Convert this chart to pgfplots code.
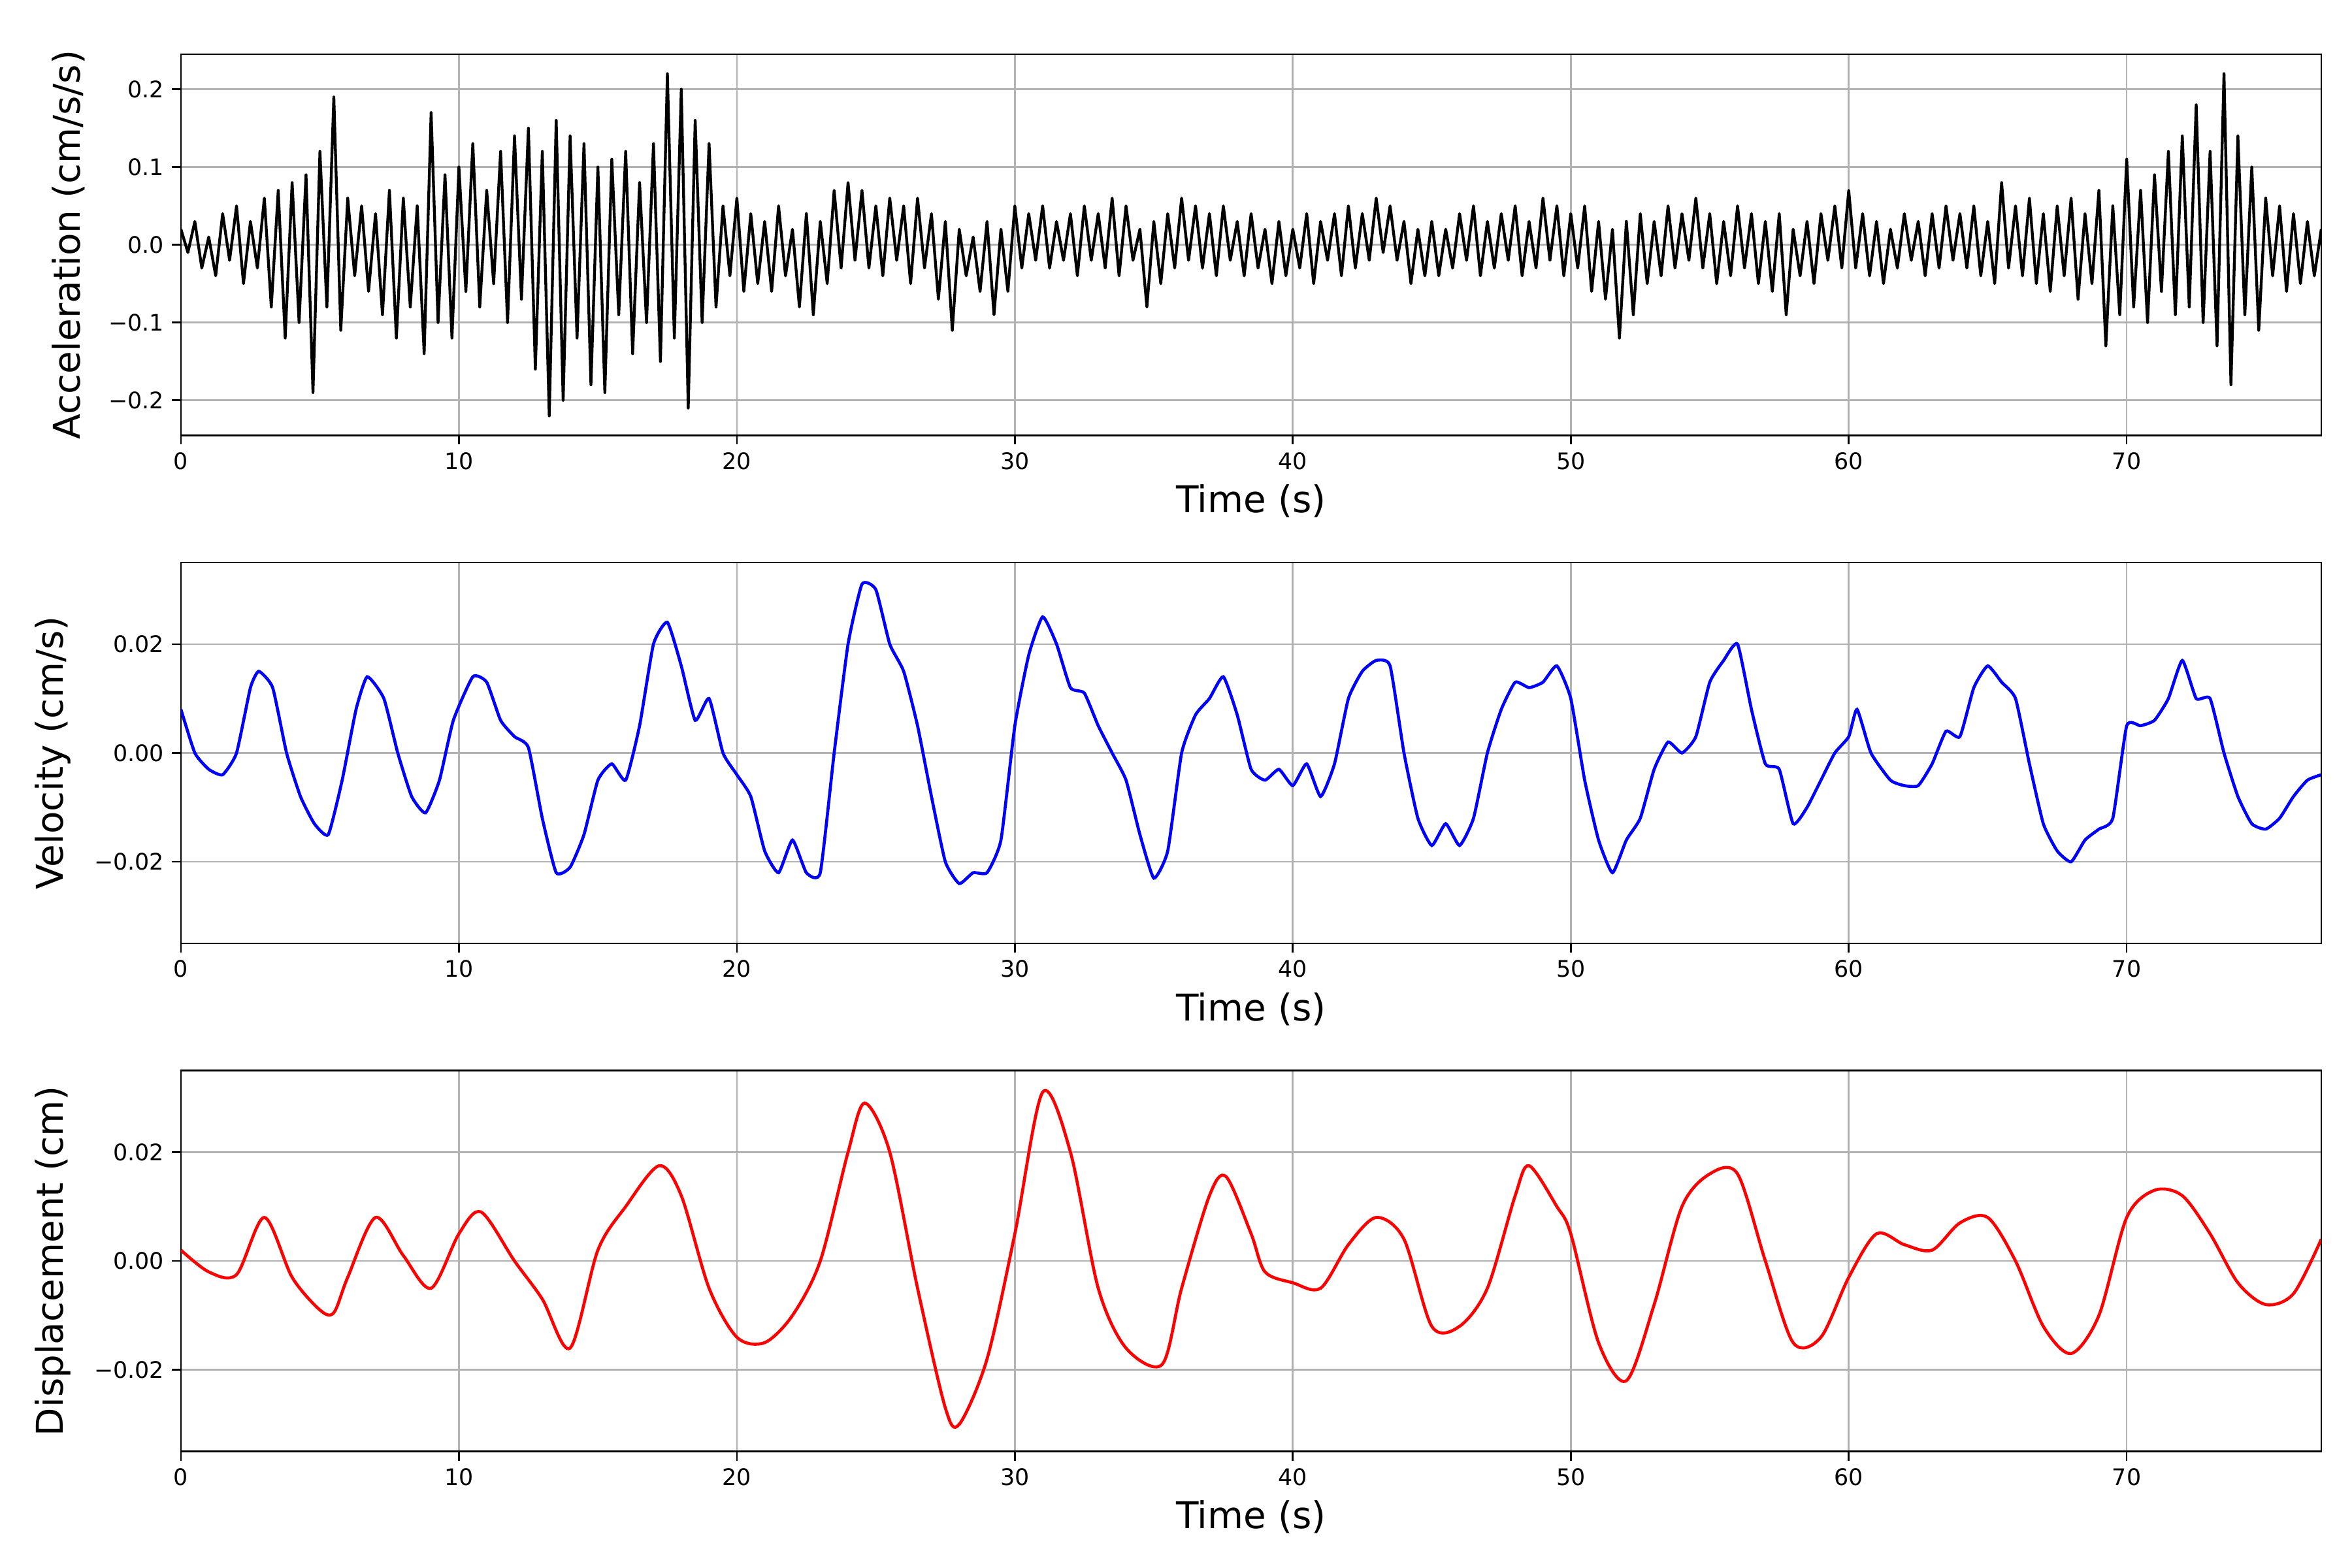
\documentclass[border=0pt]{standalone}
\usepackage{pgfplots}
\pgfplotsset{compat=1.18}
\usepackage{pgfplotstable}
\usepackage{fontspec}
\setmainfont{DejaVu Sans}
\pgfplotstableread{
x y
0 0.02
0.25 -0.01
0.5 0.03
0.75 -0.03
1 0.01
1.25 -0.04
1.5 0.04
1.75 -0.02
2 0.05
2.25 -0.05
2.5 0.03
2.75 -0.03
3 0.06
3.25 -0.08
3.5 0.07
3.75 -0.12
4 0.08
4.25 -0.10
4.5 0.09
4.75 -0.19
5 0.12
5.25 -0.08
5.5 0.19
5.75 -0.11
6 0.06
6.25 -0.04
6.5 0.05
6.75 -0.06
7 0.04
7.25 -0.09
7.5 0.07
7.75 -0.12
8 0.06
8.25 -0.08
8.5 0.05
8.75 -0.14
9 0.17
9.25 -0.10
9.5 0.09
9.75 -0.12
10 0.10
10.25 -0.06
10.5 0.13
10.75 -0.08
11 0.07
11.25 -0.05
11.5 0.12
11.75 -0.10
12 0.14
12.25 -0.07
12.5 0.15
12.75 -0.16
13 0.12
13.25 -0.22
13.5 0.16
13.75 -0.20
14 0.14
14.25 -0.12
14.5 0.13
14.75 -0.18
15 0.10
15.25 -0.19
15.5 0.11
15.75 -0.09
16 0.12
16.25 -0.14
16.5 0.08
16.75 -0.10
17 0.13
17.25 -0.15
17.5 0.22
17.75 -0.12
18 0.20
18.25 -0.21
18.5 0.16
18.75 -0.10
19 0.13
19.25 -0.08
19.5 0.05
19.75 -0.04
20 0.06
20.25 -0.06
20.5 0.04
20.75 -0.05
21 0.03
21.25 -0.06
21.5 0.05
21.75 -0.04
22 0.02
22.25 -0.08
22.5 0.04
22.75 -0.09
23 0.03
23.25 -0.05
23.5 0.07
23.75 -0.03
24 0.08
24.25 -0.02
24.5 0.07
24.75 -0.03
25 0.05
25.25 -0.04
25.5 0.06
25.75 -0.02
26 0.05
26.25 -0.05
26.5 0.06
26.75 -0.03
27 0.04
27.25 -0.07
27.5 0.03
27.75 -0.11
28 0.02
28.25 -0.04
28.5 0.01
28.75 -0.06
29 0.03
29.25 -0.09
29.5 0.02
29.75 -0.06
30 0.05
30.25 -0.03
30.5 0.04
30.75 -0.02
31 0.05
31.25 -0.03
31.5 0.03
31.75 -0.02
32 0.04
32.25 -0.04
32.5 0.05
32.75 -0.02
33 0.04
33.25 -0.03
33.5 0.06
33.75 -0.04
34 0.05
34.25 -0.02
34.5 0.02
34.75 -0.08
35 0.03
35.25 -0.05
35.5 0.04
35.75 -0.03
36 0.06
36.25 -0.02
36.5 0.05
36.75 -0.03
37 0.04
37.25 -0.04
37.5 0.05
37.75 -0.02
38 0.03
38.25 -0.04
38.5 0.04
38.75 -0.03
39 0.02
39.25 -0.05
39.5 0.03
39.75 -0.04
40 0.02
40.25 -0.03
40.5 0.04
40.75 -0.05
41 0.03
41.25 -0.02
41.5 0.04
41.75 -0.04
42 0.05
42.25 -0.03
42.5 0.04
42.75 -0.02
43 0.06
43.25 -0.01
43.5 0.05
43.75 -0.02
44 0.03
44.25 -0.05
44.5 0.02
44.75 -0.04
45 0.03
45.25 -0.04
45.5 0.02
45.75 -0.03
46 0.04
46.25 -0.02
46.5 0.05
46.75 -0.04
47 0.03
47.25 -0.03
47.5 0.04
47.75 -0.02
48 0.05
48.25 -0.04
48.5 0.03
48.75 -0.03
49 0.06
49.25 -0.02
49.5 0.05
49.75 -0.04
50 0.04
50.25 -0.03
50.5 0.05
50.75 -0.06
51 0.03
51.25 -0.07
51.5 0.02
51.75 -0.12
52 0.03
52.25 -0.09
52.5 0.04
52.75 -0.05
53 0.03
53.25 -0.04
53.5 0.05
53.75 -0.03
54 0.04
54.25 -0.02
54.5 0.06
54.75 -0.03
55 0.04
55.25 -0.05
55.5 0.03
55.75 -0.04
56 0.05
56.25 -0.03
56.5 0.04
56.75 -0.05
57 0.03
57.25 -0.06
57.5 0.04
57.75 -0.09
58 0.02
58.25 -0.04
58.5 0.03
58.75 -0.05
59 0.04
59.25 -0.02
59.5 0.05
59.75 -0.03
60 0.07
60.25 -0.03
60.5 0.04
60.75 -0.04
61 0.03
61.25 -0.05
61.5 0.02
61.75 -0.03
62 0.04
62.25 -0.02
62.5 0.03
62.75 -0.04
63 0.04
63.25 -0.03
63.5 0.05
63.75 -0.02
64 0.04
64.25 -0.03
64.5 0.05
64.75 -0.04
65 0.03
65.25 -0.05
65.5 0.08
65.75 -0.03
66 0.05
66.25 -0.04
66.5 0.06
66.75 -0.05
67 0.04
67.25 -0.06
67.5 0.05
67.75 -0.04
68 0.06
68.25 -0.07
68.5 0.04
68.75 -0.05
69 0.07
69.25 -0.13
69.5 0.05
69.75 -0.09
70 0.11
70.25 -0.08
70.5 0.07
70.75 -0.10
71 0.09
71.25 -0.06
71.5 0.12
71.75 -0.09
72 0.14
72.25 -0.08
72.5 0.18
72.75 -0.10
73 0.12
73.25 -0.13
73.5 0.22
73.75 -0.18
74 0.14
74.25 -0.09
74.5 0.10
74.75 -0.11
75 0.06
75.25 -0.04
75.5 0.05
75.75 -0.06
76 0.04
76.25 -0.05
76.5 0.03
76.75 -0.04
77 0.02
}\acc
\pgfplotstableread{
x y
0 0.008
0.5 0.0
1 -0.003
1.5 -0.004
2 0.0
2.5 0.012
2.8 0.015
3.3 0.012
3.8 0.0
4.3 -0.008
4.8 -0.013
5.3 -0.015
5.8 -0.005
6.3 0.008
6.7 0.014
7.3 0.01
7.8 0.0
8.3 -0.008
8.8 -0.011
9.3 -0.005
9.8 0.006
10.5 0.014
11 0.013
11.5 0.006
12 0.003
12.5 0.001
13 -0.012
13.5 -0.022
14 -0.021
14.5 -0.015
15 -0.005
15.5 -0.002
16 -0.005
16.5 0.005
17 0.02
17.5 0.024
18 0.016
18.5 0.006
19 0.01
19.5 0.0
20 -0.004
20.5 -0.008
21 -0.018
21.5 -0.022
22 -0.016
22.5 -0.022
23 -0.022
23.5 0.0
24 0.02
24.5 0.031
25 0.030
25.5 0.02
26 0.015
26.5 0.005
27 -0.008
27.5 -0.02
28 -0.024
28.5 -0.022
29 -0.022
29.5 -0.016
30 0.005
30.5 0.018
31 0.025
31.5 0.02
32 0.012
32.5 0.011
33 0.005
33.5 0.0
34 -0.005
34.5 -0.015
35 -0.023
35.5 -0.018
36 0.0
36.5 0.007
37 0.01
37.5 0.014
38 0.007
38.5 -0.003
39 -0.005
39.5 -0.003
40 -0.006
40.5 -0.002
41 -0.008
41.5 -0.002
42 0.01
42.5 0.015
43 0.017
43.5 0.016
44 0.0
44.5 -0.012
45 -0.017
45.5 -0.013
46 -0.017
46.5 -0.012
47 0.0
47.5 0.008
48 0.013
48.5 0.012
49 0.013
49.5 0.016
50 0.01
50.5 -0.005
51 -0.016
51.5 -0.022
52 -0.016
52.5 -0.012
53 -0.003
53.5 0.002
54 0.0
54.5 0.003
55 0.013
55.5 0.017
56 0.02
56.5 0.008
57 -0.002
57.5 -0.003
58 -0.013
58.5 -0.01
59 -0.005
59.5 0.0
60 0.003
60.3 0.008
60.8 0.0
61.5 -0.005
62 -0.006
62.5 -0.006
63 -0.002
63.5 0.004
64 0.003
64.5 0.012
65 0.016
65.5 0.013
66 0.01
66.5 -0.002
67 -0.013
67.5 -0.018
68 -0.02
68.5 -0.016
69 -0.014
69.5 -0.012
70 0.005
70.5 0.005
71 0.006
71.5 0.01
72 0.017
72.5 0.01
73 0.01
73.5 0.0
74 -0.008
74.5 -0.013
75 -0.014
75.5 -0.012
76 -0.008
76.5 -0.005
77 -0.004
}\vel
\pgfplotstableread{
x y
0 0.002
1 -0.002
2 -0.0025
3 0.008
4 -0.003
5 -0.009
5.5 -0.0095
6 -0.003
7 0.008
8 0.001
9 -0.005
10 0.005
10.8 0.009
12 0.0
13 -0.007
14 -0.016
15 0.002
16 0.01
17.2 0.0175
18 0.012
19 -0.005
20 -0.014
21 -0.015
22 -0.01
23 0.0
24 0.02
24.6 0.029
25.5 0.02
26.5 -0.005
27.5 -0.027
28 -0.030
29 -0.018
30 0.005
31 0.031
32 0.02
33 -0.005
34 -0.016
35.3 -0.019
36 -0.005
37 0.012
37.6 0.0155
38.5 0.005
39 -0.002
40 -0.004
41 -0.005
42 0.003
43 0.008
44 0.004
45 -0.012
46 -0.012
47 -0.005
48 0.012
48.5 0.0175
49.5 0.01
50 0.005
51 -0.015
52 -0.022
53 -0.008
54 0.01
55 0.016
56 0.016
57 0.0
58 -0.015
59 -0.014
60 -0.003
61 0.005
62 0.003
63 0.002
64 0.007
65 0.008
66 0.0
67 -0.012
68 -0.017
69 -0.01
70 0.008
71 0.013
72 0.012
73 0.005
74 -0.004
75 -0.008
76 -0.006
77 0.004
}\dis
\pgfplotsset{
  base/.style={
    scale only axis, width=13.65in, height=2.43in, anchor=north west,
    xmin=0, xmax=77, xtick={0,10,...,70},
    xtick pos=left, ytick pos=left, scaled y ticks=false,
    grid=major, major grid style={gray!60, line width=0.8pt},
    tick style={black, line width=0.8pt}, tick align=outside,
    axis line style={line width=0.8pt},
    ticklabel style={font=\fontsize{10.5}{12}\selectfont},
    label style={font=\fontsize{17}{20}\selectfont},
    xlabel={Time (s)},
    ylabel style={yshift=4pt},
    xticklabel style={/pgf/number format/assume math mode=true},
  }
}
\begin{document}
\begin{tikzpicture}
\path[use as bounding box] (0,0) rectangle (15in,-10in);
\begin{axis}[base, at={(1.154in,-0.346in)}, ymin=-0.245, ymax=0.245,
  ytick={-0.2,-0.1,0,0.1,0.2}, yticklabels={−0.2,−0.1,0.0,0.1,0.2},
  ylabel={Acceleration (cm/s/s)}]
\addplot[black, line width=1.3pt, line join=round] table {\acc};
\end{axis}
\begin{axis}[base, at={(1.154in,-3.587in)}, ymin=-0.035, ymax=0.035,
  ytick={-0.02,0,0.02}, yticklabels={−0.02,0.00,0.02},
  ylabel={Velocity (cm/s)}]
\addplot[blue, line width=1.4pt, smooth, tension=0.3] table {\vel};
\end{axis}
\begin{axis}[base, at={(1.154in,-6.827in)}, ymin=-0.035, ymax=0.035,
  ytick={-0.02,0,0.02}, yticklabels={−0.02,0.00,0.02},
  ylabel={Displacement (cm)}]
\addplot[red, line width=1.4pt, smooth] table {\dis};
\end{axis}
\end{tikzpicture}
\end{document}
